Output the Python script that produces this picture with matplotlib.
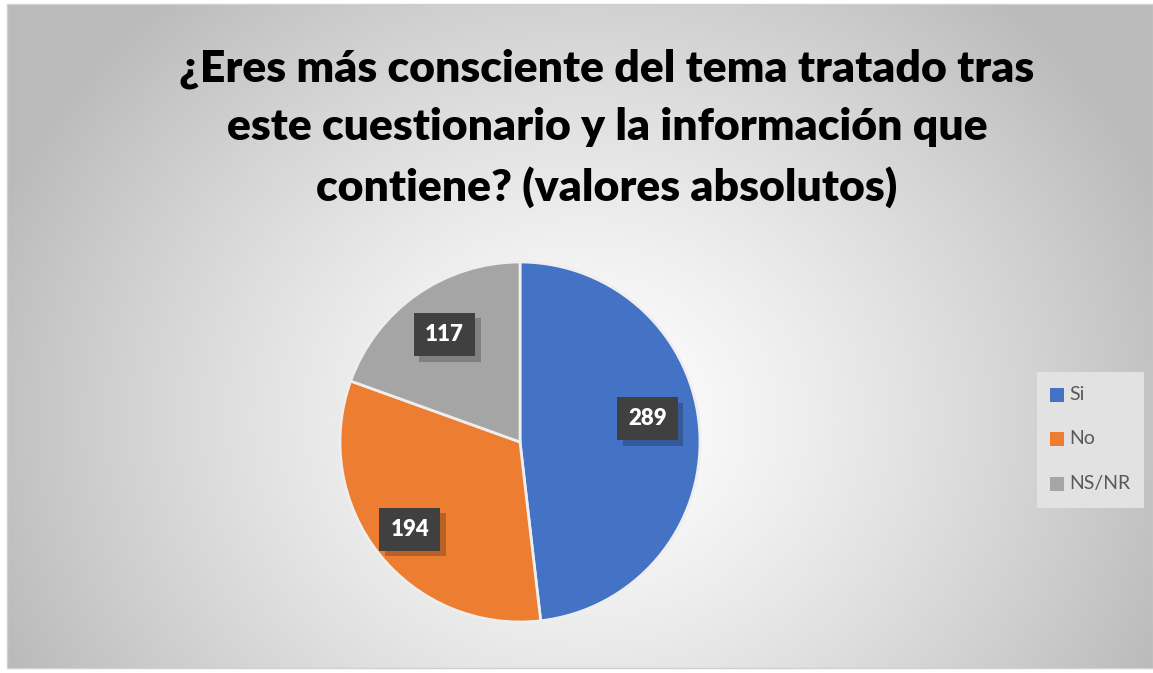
import numpy as np
import matplotlib
matplotlib.use("Agg")
import matplotlib.pyplot as plt
from matplotlib.patches import Rectangle
import matplotlib.patheffects as pe

categories = ["Si", "No", "NS/NR"]
values = [289, 194, 117]
colors = ["#4472C4", "#ED7D31", "#A5A5A5"]
title = "¿Eres más consciente del tema tratado tras\neste cuestionario y la información que\ncontiene? (valores absolutos)"

W, H = 1153, 673
fig = plt.figure(figsize=(W / 100, H / 100), dpi=100)

# background with radial gradient
bg = fig.add_axes([0, 0, 1, 1])
bg.set_xlim(0, W)
bg.set_ylim(H, 0)
bg.axis("off")
yy, xx = np.mgrid[0:H, 0:W]
cx, cy = 580, 420
d = np.sqrt(((xx - cx) / 620.0) ** 2 + ((yy - cy) / 560.0) ** 2)
g = np.clip(1.0 - 0.26 * d ** 1.3, 0.73, 1.0)
img = np.dstack([g, g, g])
bg.add_patch(Rectangle((0, 0), W, H, color="white", zorder=0))
bg.imshow(img, extent=(7, W, H - 5, 4), zorder=1, aspect="auto")
bg.add_patch(Rectangle((7, 4), W - 7, H - 9, fill=False, edgecolor="#D0D0D0", lw=1, zorder=2))

# title
bg.text(607, 128, title, ha="center", va="center", fontsize=32, fontweight="heavy",
        family=["Lato", "DejaVu Sans"], color="black", linespacing=1.55, zorder=3)

# pie
R = 180
pcx, pcy = 520, 442
ax = fig.add_axes([(pcx - R) / W, 1 - (pcy + R) / H, 2 * R / W, 2 * R / H])
wedges, _ = ax.pie(values, colors=colors, startangle=90, counterclock=False,
                   wedgeprops=dict(edgecolor="#EEEEEE", linewidth=2))
ax.set_aspect("equal")
ax.set_xlim(-1, 1)
ax.set_ylim(-1, 1)

fracs = [0.72, 0.78, 0.73]
nudge = [7.0, 0.0, 0.0]
for w, v, f, n in zip(wedges, values, fracs, nudge):
    ang = np.deg2rad((w.theta1 + w.theta2) / 2 + n)
    x, y = f * np.cos(ang), f * np.sin(ang)
    t = ax.text(x, y, str(v), ha="center", va="center", fontsize=16, fontweight="heavy",
                family=["Lato", "DejaVu Sans"], color="white",
                bbox=dict(boxstyle="square,pad=0.5", fc="#404040", ec="none"), zorder=5)
    t.get_bbox_patch().set_path_effects([
        pe.SimplePatchShadow(offset=(4, -4), shadow_rgbFace="black", alpha=0.22),
        pe.Normal()])

# legend
bg.add_patch(Rectangle((1037, 372), 107, 136, facecolor="#E2E2E2", edgecolor="none", zorder=3))
leg_y = [395, 439, 484]
for c, lab, ly in zip(colors, categories, leg_y):
    bg.add_patch(Rectangle((1050, ly - 7), 14, 14, facecolor=c, edgecolor="none", zorder=4))
    bg.text(1069, ly, lab, ha="left", va="center", fontsize=14,
            family=["Lato", "DejaVu Sans"], color="#595959", zorder=4)

fig.savefig("out.png", dpi=100)
